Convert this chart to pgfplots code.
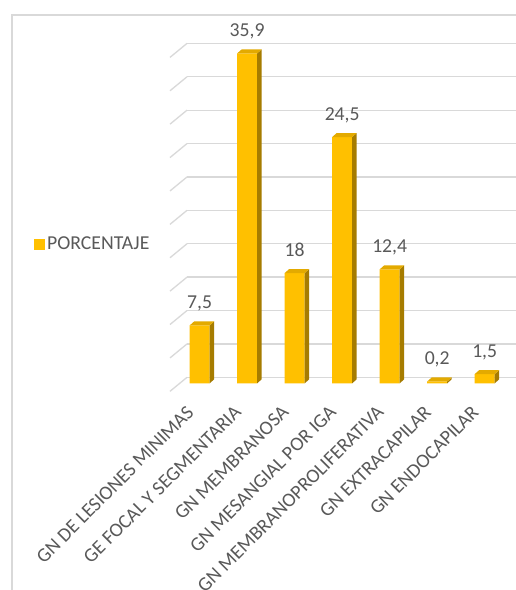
\documentclass[border=0pt]{standalone}
\usepackage{fontspec}
\setmainfont{Carlito}
\usepackage{pgfplots}
\usepackage{pgfplotstable}
\pgfplotsset{compat=1.18}
\definecolor{gold}{HTML}{FFC000}
\definecolor{sidecol}{HTML}{A67C00}
\definecolor{topcol}{HTML}{E3AA00}
\definecolor{gridcol}{HTML}{D9D9D9}
\definecolor{labgray}{HTML}{595959}
\newcommand\chartfont{\fontsize{19.7}{23}\selectfont}
\newcommand\tickfont{\fontsize{19.7}{23}\selectfont}

% x = category position, v = bar height as drawn, lab = data label
\pgfplotstableread{
x v lab
0 6.3 {7,5}
1 35.9 {35,9}
2 12.0 {18}
3 26.8 {24,5}
4 12.4 {12,4}
5 0.2 {0,2}
6 1.0 {1,5}
}\datatable

\begin{document}
\begin{tikzpicture}
\useasboundingbox (0pt,0pt) rectangle (516pt,590pt);
\fill[white] (0pt,0pt) rectangle (516pt,590pt);
\draw[gridcol, line width=1.5pt] (12pt,0pt) -- (12pt,575pt) -- (530pt,575pt);
\begin{axis}[
  at={(187pt,206.7pt)}, anchor=south west,
  scale only axis, width=329pt, height=344.6pt,
  xmin=-0.267, xmax=6.659, ymin=0, ymax=37.5,
  axis line style={draw=none},
  ytick={0.65,4.284,7.918,11.552,15.186,18.82,22.454,26.088,29.722,33.356,36.99},
  yticklabels={},
  ymajorgrids, grid style={color=gridcol, line width=1.3pt},
  major tick length=0pt,
  xtick={0,...,6},
  xticklabels={GN DE LESIONES MINIMAS, GE FOCAL Y SEGMENTARIA, GN MEMBRANOSA, GN MESANGIAL POR IGA, GN MEMBRANOPROLIFERATIVA, GN EXTRACAPILAR, GN ENDOCAPILAR},
  xticklabel style={xshift=-14pt, yshift=-21pt, rotate=45, anchor=north east, inner sep=0pt, font=\tickfont, text=labgray},
  clip=false,
  legend style={draw=none, fill=none, at={(-0.465,0.404)}, anchor=west, inner sep=0pt, font=\chartfont, text=labgray},
  legend cell align=left,
]
\pgfplotsinvokeforeach{0.65,4.284,7.918,11.552,15.186,18.82,22.454,26.088,29.722,33.356,36.99}{
  \draw[gridcol, line width=1.3pt] (axis cs:-0.267,#1) -- (axis cs:-0.625,{#1-1.523});
}
\addplot[ybar, bar width=20pt, fill=gold, draw=none,
  nodes near coords, point meta=explicit symbolic,
  every node near coord/.append style={anchor=base, inner sep=0pt, yshift=16.5pt, font=\chartfont, text=labgray},
  legend image code/.code={\fill[gold] (0pt,-5.5pt) rectangle (11pt,5.5pt);}]
  table[x=x, y=v, meta=lab]{\datatable};
\addlegendentry{PORCENTAJE}
\pgfplotsinvokeforeach{0,...,6}{
  \pgfplotstablegetelem{#1}{v}\of\datatable
  \pgfmathsetmacro\va{\pgfplotsretval}
  \pgfmathsetmacro\vb{\pgfplotsretval+0.435}
  \pgfmathsetmacro\xa{#1+0.2105}
  \pgfmathsetmacro\xb{#1+0.2105+0.095}
  \pgfmathsetmacro\xc{#1-0.2105}
  \pgfmathsetmacro\xd{#1-0.2105+0.095}
  \edef\tmp{\noexpand\addplot[fill=sidecol, draw=none, forget plot] coordinates {(\xa,0) (\xb,0.435) (\xb,\vb) (\xa,\va)} --cycle;}\tmp
  \edef\tmp{\noexpand\addplot[fill=topcol, draw=none, forget plot] coordinates {(\xc,\va) (\xa,\va) (\xb,\vb) (\xd,\vb)} --cycle;}\tmp
}
\end{axis}
\end{tikzpicture}
\end{document}
